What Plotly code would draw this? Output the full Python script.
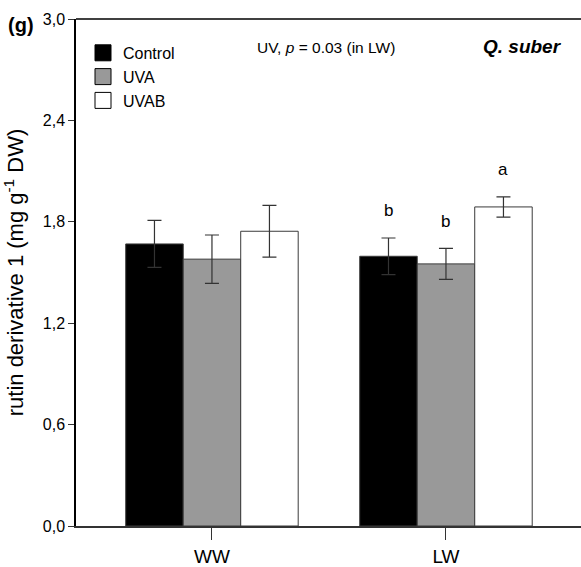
import plotly.graph_objects as go

# ---- data ----
groups = ["WW", "LW"]
treatments = ["Control", "UVA", "UVAB"]
means = {
    "Control": [1.669, 1.596],
    "UVA": [1.579, 1.551],
    "UVAB": [1.744, 1.888],
}
errors = {
    "Control": [0.139, 0.108],
    "UVA": [0.143, 0.092],
    "UVAB": [0.153, 0.060],
}
letters_lw = ["b", "b", "a"]
y_ticks = [0.0, 0.6, 1.2, 1.8, 2.4, 3.0]

# ---- style ----
fills = {"Control": "#000000", "UVA": "#999999", "UVAB": "#ffffff"}
FONT = "Liberation Sans, Arial, sans-serif"
W, H = 581, 567
L, R, T, B = 76, 0, 19, 38

fig = go.Figure()
for t in treatments:
    fig.add_trace(go.Bar(
        x=groups, y=means[t], name=t,
        marker=dict(color=fills[t], line=dict(color="#3a3a3a", width=1)),
        error_y=dict(type="data", array=errors[t], visible=True,
                     color="#333333", thickness=1.2, width=7),
        showlegend=False,
    ))
    # legend entry
    fig.add_trace(go.Scatter(
        x=[None], y=[None], mode="markers", name=t,
        marker=dict(symbol="square", size=16, color=fills[t],
                    line=dict(color="#000000", width=1)),
        showlegend=True,
    ))

bar_w = (1 - 0.263) / 3
annotations = []
for i, (t, lab) in enumerate(zip(treatments, letters_lw)):
    xpos = 1 + (i - 1) * bar_w
    ytop = means[t][1] + errors[t][1]
    annotations.append(dict(x=xpos, y=ytop + 0.16, xref="x", yref="y",
                            text=lab, showarrow=False,
                            font=dict(size=17, color="#000000", family=FONT),
                            xanchor="center", yanchor="middle"))

pw = W - L - R
ph = H - T - B
def px(xp):
    return (xp - L) / pw
def py(yp):
    return (H - B - yp) / ph

annotations += [
    dict(x=px(21), y=py(25), xref="paper", yref="paper", text="<b>(g)</b>",
         showarrow=False, font=dict(size=20, color="#000000", family=FONT),
         xanchor="center", yanchor="middle"),
    dict(x=px(325.5), y=py(48), xref="paper", yref="paper",
         text="UV, <i>p</i> = 0.03 (in LW)", showarrow=False,
         font=dict(size=15.5, color="#000000", family=FONT),
         xanchor="center", yanchor="middle"),
    dict(x=px(522), y=py(47), xref="paper", yref="paper",
         text="<b><i>Q. suber</i></b>", showarrow=False,
         font=dict(size=19, color="#000000", family=FONT),
         xanchor="center", yanchor="middle"),
]

fig.update_layout(
    width=W, height=H,
    margin=dict(l=L, r=R, t=T, b=B, pad=0),
    paper_bgcolor="white", plot_bgcolor="white",
    barmode="group", bargap=0.263, bargroupgap=0,
    separators=",.",
    font=dict(family=FONT, color="#000000"),
    showlegend=True,
    legend=dict(x=px(83), y=py(36), xanchor="left", yanchor="top",
                font=dict(size=16, family=FONT, color="#000000"),
                bgcolor="rgba(0,0,0,0)", tracegroupgap=0,
                itemsizing="trace"),
    annotations=annotations,
    shapes=[dict(type="line", xref="paper", yref="paper",
                 x0=0, x1=1, y0=1, y1=1,
                 line=dict(color="#000000", width=1.5))],
)
fig.update_xaxes(
    type="category", range=[-0.581, 1.577],
    showline=True, linecolor="#333333", linewidth=1.5,
    ticks="outside", ticklen=12, tickcolor="#333333", tickwidth=1,
    tickfont=dict(size=19, family=FONT, color="#000000"),
    showgrid=False, zeroline=False,
)
fig.update_yaxes(
    range=[0, 3], tickvals=y_ticks, tickformat=".1f",
    showline=True, linecolor="#000000", linewidth=1.5,
    ticks="outside", ticklen=6, tickcolor="#333333", tickwidth=1,
    tickfont=dict(size=16, family=FONT, color="#000000"),
    showgrid=False, zeroline=False,
    title=dict(text="rutin derivative 1 (mg g<sup>-1</sup> DW)",
               font=dict(size=22, family=FONT, color="#000000"),
               standoff=14),
)

fig.write_html("out.html",
               config={"displayModeBar": False},
               post_script="document.body.style.margin='0px';")
